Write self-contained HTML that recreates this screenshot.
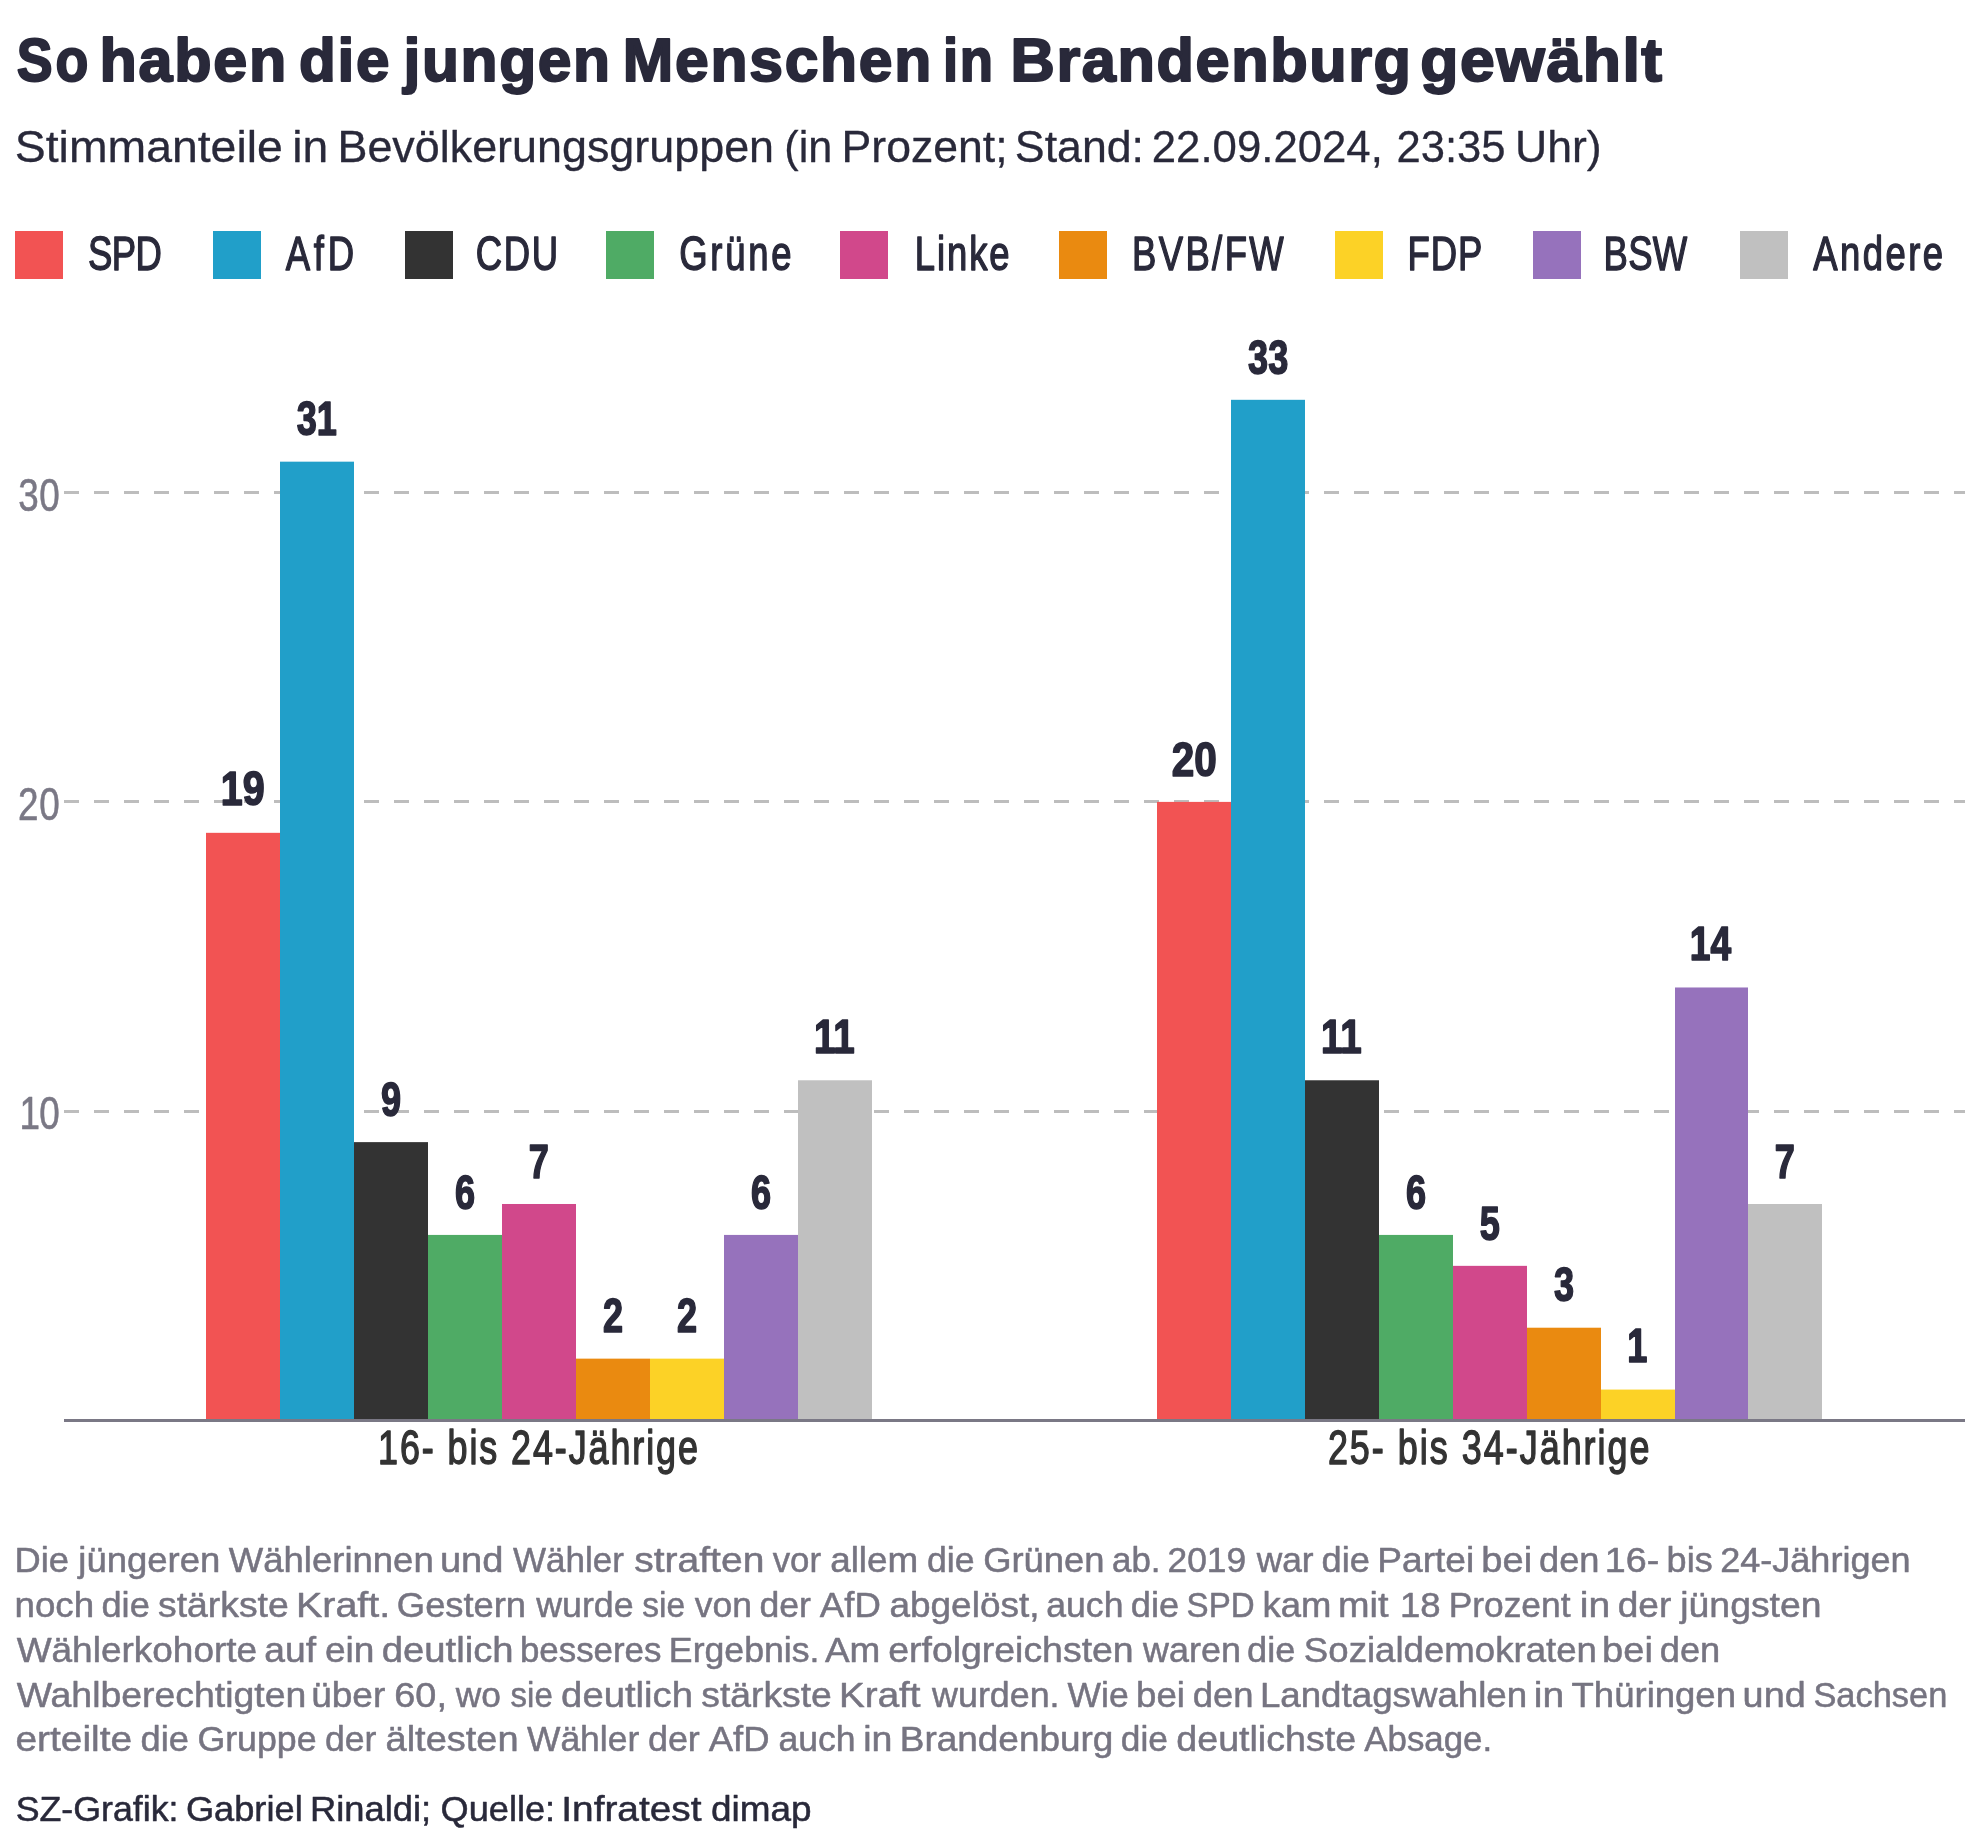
<!DOCTYPE html><html><head><meta charset="utf-8"><style>html,body{margin:0;padding:0;background:#fff;width:1980px;height:1848px;overflow:hidden}svg{display:block;will-change:transform}text{font-family:"Liberation Sans",sans-serif;white-space:pre}</style></head><body>
<svg width="1980" height="1848" viewBox="0 0 1980 1848">
<rect x="0" y="0" width="1980" height="1848" fill="#ffffff"/>
<rect x="15" y="231" width="48" height="48" fill="#f25353"/>
<rect x="213" y="231" width="48" height="48" fill="#219fc9"/>
<rect x="405" y="231" width="48" height="48" fill="#333333"/>
<rect x="606" y="231" width="48" height="48" fill="#4fab65"/>
<rect x="840" y="231" width="48" height="48" fill="#d1488b"/>
<rect x="1059" y="231" width="48" height="48" fill="#ea8a10"/>
<rect x="1335" y="231" width="48" height="48" fill="#fcd226"/>
<rect x="1533" y="231" width="48" height="48" fill="#9672bc"/>
<rect x="1740" y="231" width="48" height="48" fill="#c0c0c0"/>
<line x1="64" y1="492.5" x2="1965" y2="492.5" stroke="#bdbdbd" stroke-width="3" stroke-dasharray="15 15"/>
<line x1="64" y1="801.5" x2="1965" y2="801.5" stroke="#bdbdbd" stroke-width="3" stroke-dasharray="15 15"/>
<line x1="64" y1="1111.5" x2="1965" y2="1111.5" stroke="#bdbdbd" stroke-width="3" stroke-dasharray="15 15"/>
<rect x="206" y="832.83" width="74" height="587.67" fill="#f25353"/>
<rect x="280" y="461.67" width="74" height="958.83" fill="#219fc9"/>
<rect x="354" y="1142.13" width="74" height="278.37" fill="#333333"/>
<rect x="428" y="1234.92" width="74" height="185.58" fill="#4fab65"/>
<rect x="502" y="1203.99" width="74" height="216.51" fill="#d1488b"/>
<rect x="576" y="1358.64" width="74" height="61.86" fill="#ea8a10"/>
<rect x="650" y="1358.64" width="74" height="61.86" fill="#fcd226"/>
<rect x="724" y="1234.92" width="74" height="185.58" fill="#9672bc"/>
<rect x="798" y="1080.27" width="74" height="340.23" fill="#c0c0c0"/>
<rect x="1157" y="801.90" width="74" height="618.60" fill="#f25353"/>
<rect x="1231" y="399.81" width="74" height="1020.69" fill="#219fc9"/>
<rect x="1305" y="1080.27" width="74" height="340.23" fill="#333333"/>
<rect x="1379" y="1234.92" width="74" height="185.58" fill="#4fab65"/>
<rect x="1453" y="1265.85" width="74" height="154.65" fill="#d1488b"/>
<rect x="1527" y="1327.71" width="74" height="92.79" fill="#ea8a10"/>
<rect x="1601" y="1389.57" width="74" height="30.93" fill="#fcd226"/>
<rect x="1675" y="987.48" width="73" height="433.02" fill="#9672bc"/>
<rect x="1748" y="1203.99" width="74" height="216.51" fill="#c0c0c0"/>
<rect x="64" y="1419" width="1901" height="3" fill="#7a7885"/>
<text transform="matrix(0.8739,0,0,1,16.83,80.60)" letter-spacing="3.17" font-size="61.5" font-weight="bold" fill="#29293a" stroke="#29293a" stroke-width="2.00" stroke-linejoin="round">So</text>
<text transform="matrix(0.993,0,0,1,99.43,80.60)" letter-spacing="1.81" font-size="61.5" font-weight="bold" fill="#29293a" stroke="#29293a" stroke-width="2.00" stroke-linejoin="round">haben</text>
<text transform="matrix(0.9796,0,0,1,299.04,80.60)" letter-spacing="1.78" font-size="61.5" font-weight="bold" fill="#29293a" stroke="#29293a" stroke-width="2.00" stroke-linejoin="round">die</text>
<text transform="matrix(0.9847,0,0,1,403.48,80.60)" letter-spacing="1.66" font-size="61.5" font-weight="bold" fill="#29293a" stroke="#29293a" stroke-width="2.00" stroke-linejoin="round">jungen</text>
<text transform="matrix(0.9856,0,0,1,622.86,80.60)" letter-spacing="1.75" font-size="61.5" font-weight="bold" fill="#29293a" stroke="#29293a" stroke-width="2.00" stroke-linejoin="round">Menschen</text>
<text transform="matrix(0.8848,0,0,1,942.96,80.60)" letter-spacing="1.96" font-size="61.5" font-weight="bold" fill="#29293a" stroke="#29293a" stroke-width="2.00" stroke-linejoin="round">in</text>
<text transform="matrix(0.9965,0,0,1,1010.61,80.60)" letter-spacing="1.58" font-size="61.5" font-weight="bold" fill="#29293a" stroke="#29293a" stroke-width="2.00" stroke-linejoin="round">Brandenburg</text>
<text transform="matrix(1.0153,0,0,1,1420.17,80.60)" letter-spacing="1.57" font-size="61.5" font-weight="bold" fill="#29293a" stroke="#29293a" stroke-width="2.00" stroke-linejoin="round">gewählt</text>
<text x="14.79" y="162.40" font-size="45.0" fill="#29293a" stroke="#29293a" stroke-width="0.3" stroke-linejoin="round" textLength="268.02" lengthAdjust="spacingAndGlyphs">Stimmanteile</text>
<text x="292.37" y="162.40" font-size="45.0" fill="#29293a" stroke="#29293a" stroke-width="0.3" stroke-linejoin="round" textLength="35.96" lengthAdjust="spacingAndGlyphs">in</text>
<text x="337.46" y="162.40" font-size="45.0" fill="#29293a" stroke="#29293a" stroke-width="0.3" stroke-linejoin="round" textLength="436.61" lengthAdjust="spacingAndGlyphs">Bevölkerungsgruppen</text>
<text x="784.33" y="162.40" font-size="45.0" fill="#29293a" stroke="#29293a" stroke-width="0.3" stroke-linejoin="round" textLength="48.07" lengthAdjust="spacingAndGlyphs">(in</text>
<text x="841.58" y="162.40" font-size="45.0" fill="#29293a" stroke="#29293a" stroke-width="0.3" stroke-linejoin="round" textLength="165.94" lengthAdjust="spacingAndGlyphs">Prozent;</text>
<text x="1014.86" y="162.40" font-size="45.0" fill="#29293a" stroke="#29293a" stroke-width="0.3" stroke-linejoin="round" textLength="129.16" lengthAdjust="spacingAndGlyphs">Stand:</text>
<text x="1151.81" y="162.40" font-size="45.0" fill="#29293a" stroke="#29293a" stroke-width="0.3" stroke-linejoin="round" textLength="231.05" lengthAdjust="spacingAndGlyphs">22.09.2024,</text>
<text x="1396.51" y="162.40" font-size="45.0" fill="#29293a" stroke="#29293a" stroke-width="0.3" stroke-linejoin="round" textLength="109.13" lengthAdjust="spacingAndGlyphs">23:35</text>
<text x="1514.98" y="162.40" font-size="45.0" fill="#29293a" stroke="#29293a" stroke-width="0.3" stroke-linejoin="round" textLength="86.64" lengthAdjust="spacingAndGlyphs">Uhr)</text>
<text transform="matrix(0.76,0,0,1,87.88,269.60)" letter-spacing="-0.74" font-size="48.0" fill="#29293a" stroke="#29293a" stroke-width="1.40" stroke-linejoin="round">SPD</text>
<text transform="matrix(0.76,0,0,1,285.70,269.60)" letter-spacing="4.97" font-size="48.0" fill="#29293a" stroke="#29293a" stroke-width="1.40" stroke-linejoin="round">AfD</text>
<text transform="matrix(0.76,0,0,1,475.68,269.60)" letter-spacing="2.22" font-size="48.0" fill="#29293a" stroke="#29293a" stroke-width="1.40" stroke-linejoin="round">CDU</text>
<text transform="matrix(0.76,0,0,1,679.18,269.60)" letter-spacing="3.62" font-size="48.0" fill="#29293a" stroke="#29293a" stroke-width="1.40" stroke-linejoin="round">Grüne</text>
<text transform="matrix(0.76,0,0,1,914.82,269.60)" letter-spacing="2.49" font-size="48.0" fill="#29293a" stroke="#29293a" stroke-width="1.40" stroke-linejoin="round">Linke</text>
<text transform="matrix(0.76,0,0,1,1131.92,269.60)" letter-spacing="3.16" font-size="48.0" fill="#29293a" stroke="#29293a" stroke-width="1.40" stroke-linejoin="round">BVB/FW</text>
<text transform="matrix(0.76,0,0,1,1407.42,269.60)" letter-spacing="1.28" font-size="48.0" fill="#29293a" stroke="#29293a" stroke-width="1.40" stroke-linejoin="round">FDP</text>
<text transform="matrix(0.76,0,0,1,1603.42,269.60)" letter-spacing="0.50" font-size="48.0" fill="#29293a" stroke="#29293a" stroke-width="1.40" stroke-linejoin="round">BSW</text>
<text transform="matrix(0.76,0,0,1,1813.20,269.60)" letter-spacing="3.22" font-size="48.0" fill="#29293a" stroke="#29293a" stroke-width="1.40" stroke-linejoin="round">Andere</text>
<text transform="matrix(0.8,0,0,1,18.30,511.00)" letter-spacing="0.67" font-size="46" fill="#7a7885" stroke="#7a7885" stroke-width="0.60" stroke-linejoin="round">30</text>
<text transform="matrix(0.8,0,0,1,18.00,820.00)" letter-spacing="1.04" font-size="46" fill="#7a7885" stroke="#7a7885" stroke-width="0.60" stroke-linejoin="round">20</text>
<text transform="matrix(0.8,0,0,1,19.40,1128.80)" letter-spacing="-0.71" font-size="46" fill="#7a7885" stroke="#7a7885" stroke-width="0.60" stroke-linejoin="round">10</text>
<text x="220.84" y="805.33" font-size="47.5" font-weight="bold" fill="#29293a" stroke="#29293a" stroke-width="1.6" stroke-linejoin="round" textLength="43.84" lengthAdjust="spacingAndGlyphs">19</text>
<text x="296.70" y="435.37" font-size="47.5" font-weight="bold" fill="#29293a" stroke="#29293a" stroke-width="1.6" stroke-linejoin="round" textLength="40.15" lengthAdjust="spacingAndGlyphs">31</text>
<text x="381.12" y="1115.83" font-size="47.5" font-weight="bold" fill="#29293a" stroke="#29293a" stroke-width="1.6" stroke-linejoin="round" textLength="20.08" lengthAdjust="spacingAndGlyphs">9</text>
<text x="455.12" y="1208.62" font-size="47.5" font-weight="bold" fill="#29293a" stroke="#29293a" stroke-width="1.6" stroke-linejoin="round" textLength="20.08" lengthAdjust="spacingAndGlyphs">6</text>
<text x="528.74" y="1177.69" font-size="47.5" font-weight="bold" fill="#29293a" stroke="#29293a" stroke-width="1.6" stroke-linejoin="round" textLength="20.08" lengthAdjust="spacingAndGlyphs">7</text>
<text x="603.12" y="1332.34" font-size="47.5" font-weight="bold" fill="#29293a" stroke="#29293a" stroke-width="1.6" stroke-linejoin="round" textLength="20.08" lengthAdjust="spacingAndGlyphs">2</text>
<text x="677.12" y="1332.34" font-size="47.5" font-weight="bold" fill="#29293a" stroke="#29293a" stroke-width="1.6" stroke-linejoin="round" textLength="20.08" lengthAdjust="spacingAndGlyphs">2</text>
<text x="751.12" y="1208.62" font-size="47.5" font-weight="bold" fill="#29293a" stroke="#29293a" stroke-width="1.6" stroke-linejoin="round" textLength="20.08" lengthAdjust="spacingAndGlyphs">6</text>
<text x="813.98" y="1052.77" font-size="47.5" font-weight="bold" fill="#29293a" stroke="#29293a" stroke-width="1.6" stroke-linejoin="round" textLength="40.76" lengthAdjust="spacingAndGlyphs">11</text>
<text x="1171.65" y="775.60" font-size="47.5" font-weight="bold" fill="#29293a" stroke="#29293a" stroke-width="1.6" stroke-linejoin="round" textLength="45.06" lengthAdjust="spacingAndGlyphs">20</text>
<text x="1248.08" y="373.51" font-size="47.5" font-weight="bold" fill="#29293a" stroke="#29293a" stroke-width="1.6" stroke-linejoin="round" textLength="40.15" lengthAdjust="spacingAndGlyphs">33</text>
<text x="1320.98" y="1052.77" font-size="47.5" font-weight="bold" fill="#29293a" stroke="#29293a" stroke-width="1.6" stroke-linejoin="round" textLength="40.76" lengthAdjust="spacingAndGlyphs">11</text>
<text x="1406.12" y="1208.62" font-size="47.5" font-weight="bold" fill="#29293a" stroke="#29293a" stroke-width="1.6" stroke-linejoin="round" textLength="20.08" lengthAdjust="spacingAndGlyphs">6</text>
<text x="1479.74" y="1239.55" font-size="47.5" font-weight="bold" fill="#29293a" stroke="#29293a" stroke-width="1.6" stroke-linejoin="round" textLength="20.08" lengthAdjust="spacingAndGlyphs">5</text>
<text x="1554.12" y="1301.41" font-size="47.5" font-weight="bold" fill="#29293a" stroke="#29293a" stroke-width="1.6" stroke-linejoin="round" textLength="20.08" lengthAdjust="spacingAndGlyphs">3</text>
<text x="1627.36" y="1362.07" font-size="47.5" font-weight="bold" fill="#29293a" stroke="#29293a" stroke-width="1.6" stroke-linejoin="round" textLength="20.08" lengthAdjust="spacingAndGlyphs">1</text>
<text x="1689.84" y="959.98" font-size="47.5" font-weight="bold" fill="#29293a" stroke="#29293a" stroke-width="1.6" stroke-linejoin="round" textLength="41.31" lengthAdjust="spacingAndGlyphs">14</text>
<text x="1774.74" y="1177.69" font-size="47.5" font-weight="bold" fill="#29293a" stroke="#29293a" stroke-width="1.6" stroke-linejoin="round" textLength="20.08" lengthAdjust="spacingAndGlyphs">7</text>
<text transform="matrix(0.76,0,0,1,378.02,1463.60)" letter-spacing="2.50" font-size="47.3" fill="#333333" stroke="#333333" stroke-width="1.40" stroke-linejoin="round">16- bis 24-Jährige</text>
<text transform="matrix(0.76,0,0,1,1327.88,1463.60)" letter-spacing="2.63" font-size="47.3" fill="#333333" stroke="#333333" stroke-width="1.40" stroke-linejoin="round">25- bis 34-Jährige</text>
<text x="14.53" y="1572.00" font-size="34.2" fill="#767481" stroke="#767481" stroke-width="0.5" stroke-linejoin="round" textLength="54.50" lengthAdjust="spacingAndGlyphs">Die</text>
<text x="78.32" y="1572.00" font-size="34.2" fill="#767481" stroke="#767481" stroke-width="0.5" stroke-linejoin="round" textLength="141.98" lengthAdjust="spacingAndGlyphs">jüngeren</text>
<text x="228.75" y="1572.00" font-size="34.2" fill="#767481" stroke="#767481" stroke-width="0.5" stroke-linejoin="round" textLength="204.95" lengthAdjust="spacingAndGlyphs">Wählerinnen</text>
<text x="439.92" y="1572.00" font-size="34.2" fill="#767481" stroke="#767481" stroke-width="0.5" stroke-linejoin="round" textLength="63.57" lengthAdjust="spacingAndGlyphs">und</text>
<text x="513.05" y="1572.00" font-size="34.2" fill="#767481" stroke="#767481" stroke-width="0.5" stroke-linejoin="round" textLength="110.99" lengthAdjust="spacingAndGlyphs">Wähler</text>
<text x="634.25" y="1572.00" font-size="34.2" fill="#767481" stroke="#767481" stroke-width="0.5" stroke-linejoin="round" textLength="130.10" lengthAdjust="spacingAndGlyphs">straften</text>
<text x="772.65" y="1572.00" font-size="34.2" fill="#767481" stroke="#767481" stroke-width="0.5" stroke-linejoin="round" textLength="48.39" lengthAdjust="spacingAndGlyphs">vor</text>
<text x="830.17" y="1572.00" font-size="34.2" fill="#767481" stroke="#767481" stroke-width="0.5" stroke-linejoin="round" textLength="88.07" lengthAdjust="spacingAndGlyphs">allem</text>
<text x="926.91" y="1572.00" font-size="34.2" fill="#767481" stroke="#767481" stroke-width="0.5" stroke-linejoin="round" textLength="47.60" lengthAdjust="spacingAndGlyphs">die</text>
<text x="983.19" y="1572.00" font-size="34.2" fill="#767481" stroke="#767481" stroke-width="0.5" stroke-linejoin="round" textLength="121.41" lengthAdjust="spacingAndGlyphs">Grünen</text>
<text x="1112.03" y="1572.00" font-size="34.2" fill="#767481" stroke="#767481" stroke-width="0.5" stroke-linejoin="round" textLength="48.47" lengthAdjust="spacingAndGlyphs">ab.</text>
<text x="1167.52" y="1572.00" font-size="34.2" fill="#767481" stroke="#767481" stroke-width="0.5" stroke-linejoin="round" textLength="78.68" lengthAdjust="spacingAndGlyphs">2019</text>
<text x="1256.78" y="1572.00" font-size="34.2" fill="#767481" stroke="#767481" stroke-width="0.5" stroke-linejoin="round" textLength="56.86" lengthAdjust="spacingAndGlyphs">war</text>
<text x="1321.59" y="1572.00" font-size="34.2" fill="#767481" stroke="#767481" stroke-width="0.5" stroke-linejoin="round" textLength="48.33" lengthAdjust="spacingAndGlyphs">die</text>
<text x="1377.28" y="1572.00" font-size="34.2" fill="#767481" stroke="#767481" stroke-width="0.5" stroke-linejoin="round" textLength="97.01" lengthAdjust="spacingAndGlyphs">Partei</text>
<text x="1481.32" y="1572.00" font-size="34.2" fill="#767481" stroke="#767481" stroke-width="0.5" stroke-linejoin="round" textLength="50.80" lengthAdjust="spacingAndGlyphs">bei</text>
<text x="1538.99" y="1572.00" font-size="34.2" fill="#767481" stroke="#767481" stroke-width="0.5" stroke-linejoin="round" textLength="60.50" lengthAdjust="spacingAndGlyphs">den</text>
<text x="1604.85" y="1572.00" font-size="34.2" fill="#767481" stroke="#767481" stroke-width="0.5" stroke-linejoin="round" textLength="54.43" lengthAdjust="spacingAndGlyphs">16-</text>
<text x="1666.64" y="1572.00" font-size="34.2" fill="#767481" stroke="#767481" stroke-width="0.5" stroke-linejoin="round" textLength="46.06" lengthAdjust="spacingAndGlyphs">bis</text>
<text x="1720.20" y="1572.00" font-size="34.2" fill="#767481" stroke="#767481" stroke-width="0.5" stroke-linejoin="round" textLength="190.38" lengthAdjust="spacingAndGlyphs">24-Jährigen</text>
<text x="14.50" y="1616.70" font-size="34.2" fill="#767481" stroke="#767481" stroke-width="0.5" stroke-linejoin="round" textLength="79.61" lengthAdjust="spacingAndGlyphs">noch</text>
<text x="101.49" y="1616.70" font-size="34.2" fill="#767481" stroke="#767481" stroke-width="0.5" stroke-linejoin="round" textLength="48.33" lengthAdjust="spacingAndGlyphs">die</text>
<text x="158.05" y="1616.70" font-size="34.2" fill="#767481" stroke="#767481" stroke-width="0.5" stroke-linejoin="round" textLength="130.71" lengthAdjust="spacingAndGlyphs">stärkste</text>
<text x="295.94" y="1616.70" font-size="34.2" fill="#767481" stroke="#767481" stroke-width="0.5" stroke-linejoin="round" textLength="94.29" lengthAdjust="spacingAndGlyphs">Kraft.</text>
<text x="396.89" y="1616.70" font-size="34.2" fill="#767481" stroke="#767481" stroke-width="0.5" stroke-linejoin="round" textLength="129.20" lengthAdjust="spacingAndGlyphs">Gestern</text>
<text x="536.30" y="1616.70" font-size="34.2" fill="#767481" stroke="#767481" stroke-width="0.5" stroke-linejoin="round" textLength="97.31" lengthAdjust="spacingAndGlyphs">wurde</text>
<text x="642.35" y="1616.70" font-size="34.2" fill="#767481" stroke="#767481" stroke-width="0.5" stroke-linejoin="round" textLength="42.89" lengthAdjust="spacingAndGlyphs">sie</text>
<text x="694.85" y="1616.70" font-size="34.2" fill="#767481" stroke="#767481" stroke-width="0.5" stroke-linejoin="round" textLength="57.19" lengthAdjust="spacingAndGlyphs">von</text>
<text x="759.51" y="1616.70" font-size="34.2" fill="#767481" stroke="#767481" stroke-width="0.5" stroke-linejoin="round" textLength="51.44" lengthAdjust="spacingAndGlyphs">der</text>
<text x="819.85" y="1616.70" font-size="34.2" fill="#767481" stroke="#767481" stroke-width="0.5" stroke-linejoin="round" textLength="60.94" lengthAdjust="spacingAndGlyphs">AfD</text>
<text x="889.47" y="1616.70" font-size="34.2" fill="#767481" stroke="#767481" stroke-width="0.5" stroke-linejoin="round" textLength="149.98" lengthAdjust="spacingAndGlyphs">abgelöst,</text>
<text x="1046.31" y="1616.70" font-size="34.2" fill="#767481" stroke="#767481" stroke-width="0.5" stroke-linejoin="round" textLength="77.14" lengthAdjust="spacingAndGlyphs">auch</text>
<text x="1130.89" y="1616.70" font-size="34.2" fill="#767481" stroke="#767481" stroke-width="0.5" stroke-linejoin="round" textLength="48.33" lengthAdjust="spacingAndGlyphs">die</text>
<text x="1186.58" y="1616.70" font-size="34.2" fill="#767481" stroke="#767481" stroke-width="0.5" stroke-linejoin="round" textLength="68.03" lengthAdjust="spacingAndGlyphs">SPD</text>
<text x="1262.42" y="1616.70" font-size="34.2" fill="#767481" stroke="#767481" stroke-width="0.5" stroke-linejoin="round" textLength="68.91" lengthAdjust="spacingAndGlyphs">kam</text>
<text x="1338.04" y="1616.70" font-size="34.2" fill="#767481" stroke="#767481" stroke-width="0.5" stroke-linejoin="round" textLength="50.46" lengthAdjust="spacingAndGlyphs">mit</text>
<text x="1400.01" y="1616.70" font-size="34.2" fill="#767481" stroke="#767481" stroke-width="0.5" stroke-linejoin="round" textLength="40.62" lengthAdjust="spacingAndGlyphs">18</text>
<text x="1448.68" y="1616.70" font-size="34.2" fill="#767481" stroke="#767481" stroke-width="0.5" stroke-linejoin="round" textLength="121.85" lengthAdjust="spacingAndGlyphs">Prozent</text>
<text x="1579.77" y="1616.70" font-size="34.2" fill="#767481" stroke="#767481" stroke-width="0.5" stroke-linejoin="round" textLength="30.38" lengthAdjust="spacingAndGlyphs">in</text>
<text x="1617.77" y="1616.70" font-size="34.2" fill="#767481" stroke="#767481" stroke-width="0.5" stroke-linejoin="round" textLength="53.50" lengthAdjust="spacingAndGlyphs">der</text>
<text x="1680.34" y="1616.70" font-size="34.2" fill="#767481" stroke="#767481" stroke-width="0.5" stroke-linejoin="round" textLength="141.11" lengthAdjust="spacingAndGlyphs">jüngsten</text>
<text x="16.65" y="1661.60" font-size="34.2" fill="#767481" stroke="#767481" stroke-width="0.5" stroke-linejoin="round" textLength="240.50" lengthAdjust="spacingAndGlyphs">Wählerkohorte</text>
<text x="264.36" y="1661.60" font-size="34.2" fill="#767481" stroke="#767481" stroke-width="0.5" stroke-linejoin="round" textLength="51.74" lengthAdjust="spacingAndGlyphs">auf</text>
<text x="324.97" y="1661.60" font-size="34.2" fill="#767481" stroke="#767481" stroke-width="0.5" stroke-linejoin="round" textLength="49.47" lengthAdjust="spacingAndGlyphs">ein</text>
<text x="381.73" y="1661.60" font-size="34.2" fill="#767481" stroke="#767481" stroke-width="0.5" stroke-linejoin="round" textLength="131.87" lengthAdjust="spacingAndGlyphs">deutlich</text>
<text x="519.91" y="1661.60" font-size="34.2" fill="#767481" stroke="#767481" stroke-width="0.5" stroke-linejoin="round" textLength="141.56" lengthAdjust="spacingAndGlyphs">besseres</text>
<text x="668.86" y="1661.60" font-size="34.2" fill="#767481" stroke="#767481" stroke-width="0.5" stroke-linejoin="round" textLength="150.59" lengthAdjust="spacingAndGlyphs">Ergebnis.</text>
<text x="824.95" y="1661.60" font-size="34.2" fill="#767481" stroke="#767481" stroke-width="0.5" stroke-linejoin="round" textLength="55.40" lengthAdjust="spacingAndGlyphs">Am</text>
<text x="888.26" y="1661.60" font-size="34.2" fill="#767481" stroke="#767481" stroke-width="0.5" stroke-linejoin="round" textLength="245.40" lengthAdjust="spacingAndGlyphs">erfolgreichsten</text>
<text x="1143.10" y="1661.60" font-size="34.2" fill="#767481" stroke="#767481" stroke-width="0.5" stroke-linejoin="round" textLength="97.76" lengthAdjust="spacingAndGlyphs">waren</text>
<text x="1247.09" y="1661.60" font-size="34.2" fill="#767481" stroke="#767481" stroke-width="0.5" stroke-linejoin="round" textLength="48.33" lengthAdjust="spacingAndGlyphs">die</text>
<text x="1303.88" y="1661.60" font-size="34.2" fill="#767481" stroke="#767481" stroke-width="0.5" stroke-linejoin="round" textLength="293.03" lengthAdjust="spacingAndGlyphs">Sozialdemokraten</text>
<text x="1602.12" y="1661.60" font-size="34.2" fill="#767481" stroke="#767481" stroke-width="0.5" stroke-linejoin="round" textLength="50.80" lengthAdjust="spacingAndGlyphs">bei</text>
<text x="1659.79" y="1661.60" font-size="34.2" fill="#767481" stroke="#767481" stroke-width="0.5" stroke-linejoin="round" textLength="60.50" lengthAdjust="spacingAndGlyphs">den</text>
<text x="16.65" y="1707.00" font-size="34.2" fill="#767481" stroke="#767481" stroke-width="0.5" stroke-linejoin="round" textLength="289.60" lengthAdjust="spacingAndGlyphs">Wahlberechtigten</text>
<text x="311.18" y="1707.00" font-size="34.2" fill="#767481" stroke="#767481" stroke-width="0.5" stroke-linejoin="round" textLength="74.08" lengthAdjust="spacingAndGlyphs">über</text>
<text x="394.34" y="1707.00" font-size="34.2" fill="#767481" stroke="#767481" stroke-width="0.5" stroke-linejoin="round" textLength="52.57" lengthAdjust="spacingAndGlyphs">60,</text>
<text x="455.78" y="1707.00" font-size="34.2" fill="#767481" stroke="#767481" stroke-width="0.5" stroke-linejoin="round" textLength="45.21" lengthAdjust="spacingAndGlyphs">wo</text>
<text x="510.55" y="1707.00" font-size="34.2" fill="#767481" stroke="#767481" stroke-width="0.5" stroke-linejoin="round" textLength="42.18" lengthAdjust="spacingAndGlyphs">sie</text>
<text x="561.13" y="1707.00" font-size="34.2" fill="#767481" stroke="#767481" stroke-width="0.5" stroke-linejoin="round" textLength="131.77" lengthAdjust="spacingAndGlyphs">deutlich</text>
<text x="701.25" y="1707.00" font-size="34.2" fill="#767481" stroke="#767481" stroke-width="0.5" stroke-linejoin="round" textLength="130.61" lengthAdjust="spacingAndGlyphs">stärkste</text>
<text x="839.09" y="1707.00" font-size="34.2" fill="#767481" stroke="#767481" stroke-width="0.5" stroke-linejoin="round" textLength="81.49" lengthAdjust="spacingAndGlyphs">Kraft</text>
<text x="932.10" y="1707.00" font-size="34.2" fill="#767481" stroke="#767481" stroke-width="0.5" stroke-linejoin="round" textLength="127.47" lengthAdjust="spacingAndGlyphs">wurden.</text>
<text x="1067.55" y="1707.00" font-size="34.2" fill="#767481" stroke="#767481" stroke-width="0.5" stroke-linejoin="round" textLength="61.15" lengthAdjust="spacingAndGlyphs">Wie</text>
<text x="1136.11" y="1707.00" font-size="34.2" fill="#767481" stroke="#767481" stroke-width="0.5" stroke-linejoin="round" textLength="48.85" lengthAdjust="spacingAndGlyphs">bei</text>
<text x="1192.78" y="1707.00" font-size="34.2" fill="#767481" stroke="#767481" stroke-width="0.5" stroke-linejoin="round" textLength="60.81" lengthAdjust="spacingAndGlyphs">den</text>
<text x="1259.90" y="1707.00" font-size="34.2" fill="#767481" stroke="#767481" stroke-width="0.5" stroke-linejoin="round" textLength="267.31" lengthAdjust="spacingAndGlyphs">Landtagswahlen</text>
<text x="1533.77" y="1707.00" font-size="34.2" fill="#767481" stroke="#767481" stroke-width="0.5" stroke-linejoin="round" textLength="30.38" lengthAdjust="spacingAndGlyphs">in</text>
<text x="1571.55" y="1707.00" font-size="34.2" fill="#767481" stroke="#767481" stroke-width="0.5" stroke-linejoin="round" textLength="164.45" lengthAdjust="spacingAndGlyphs">Thüringen</text>
<text x="1742.64" y="1707.00" font-size="34.2" fill="#767481" stroke="#767481" stroke-width="0.5" stroke-linejoin="round" textLength="63.04" lengthAdjust="spacingAndGlyphs">und</text>
<text x="1813.44" y="1707.00" font-size="34.2" fill="#767481" stroke="#767481" stroke-width="0.5" stroke-linejoin="round" textLength="133.83" lengthAdjust="spacingAndGlyphs">Sachsen</text>
<text x="15.51" y="1751.30" font-size="34.2" fill="#767481" stroke="#767481" stroke-width="0.5" stroke-linejoin="round" textLength="116.69" lengthAdjust="spacingAndGlyphs">erteilte</text>
<text x="140.59" y="1751.30" font-size="34.2" fill="#767481" stroke="#767481" stroke-width="0.5" stroke-linejoin="round" textLength="48.33" lengthAdjust="spacingAndGlyphs">die</text>
<text x="197.41" y="1751.30" font-size="34.2" fill="#767481" stroke="#767481" stroke-width="0.5" stroke-linejoin="round" textLength="119.10" lengthAdjust="spacingAndGlyphs">Gruppe</text>
<text x="325.01" y="1751.30" font-size="34.2" fill="#767481" stroke="#767481" stroke-width="0.5" stroke-linejoin="round" textLength="51.44" lengthAdjust="spacingAndGlyphs">der</text>
<text x="385.54" y="1751.30" font-size="34.2" fill="#767481" stroke="#767481" stroke-width="0.5" stroke-linejoin="round" textLength="133.05" lengthAdjust="spacingAndGlyphs">ältesten</text>
<text x="526.95" y="1751.30" font-size="34.2" fill="#767481" stroke="#767481" stroke-width="0.5" stroke-linejoin="round" textLength="112.30" lengthAdjust="spacingAndGlyphs">Wähler</text>
<text x="647.90" y="1751.30" font-size="34.2" fill="#767481" stroke="#767481" stroke-width="0.5" stroke-linejoin="round" textLength="51.96" lengthAdjust="spacingAndGlyphs">der</text>
<text x="708.75" y="1751.30" font-size="34.2" fill="#767481" stroke="#767481" stroke-width="0.5" stroke-linejoin="round" textLength="60.84" lengthAdjust="spacingAndGlyphs">AfD</text>
<text x="778.41" y="1751.30" font-size="34.2" fill="#767481" stroke="#767481" stroke-width="0.5" stroke-linejoin="round" textLength="77.14" lengthAdjust="spacingAndGlyphs">auch</text>
<text x="863.15" y="1751.30" font-size="34.2" fill="#767481" stroke="#767481" stroke-width="0.5" stroke-linejoin="round" textLength="29.21" lengthAdjust="spacingAndGlyphs">in</text>
<text x="899.79" y="1751.30" font-size="34.2" fill="#767481" stroke="#767481" stroke-width="0.5" stroke-linejoin="round" textLength="213.64" lengthAdjust="spacingAndGlyphs">Brandenburg</text>
<text x="1120.82" y="1751.30" font-size="34.2" fill="#767481" stroke="#767481" stroke-width="0.5" stroke-linejoin="round" textLength="47.08" lengthAdjust="spacingAndGlyphs">die</text>
<text x="1176.35" y="1751.30" font-size="34.2" fill="#767481" stroke="#767481" stroke-width="0.5" stroke-linejoin="round" textLength="179.71" lengthAdjust="spacingAndGlyphs">deutlichste</text>
<text x="1364.25" y="1751.30" font-size="34.2" fill="#767481" stroke="#767481" stroke-width="0.5" stroke-linejoin="round" textLength="127.95" lengthAdjust="spacingAndGlyphs">Absage.</text>
<text x="15.71" y="1821.10" font-size="34.5" fill="#29293a" stroke="#29293a" stroke-width="0.5" stroke-linejoin="round" textLength="162.81" lengthAdjust="spacingAndGlyphs">SZ-Grafik:</text>
<text x="185.90" y="1821.10" font-size="34.5" fill="#29293a" stroke="#29293a" stroke-width="0.5" stroke-linejoin="round" textLength="116.80" lengthAdjust="spacingAndGlyphs">Gabriel</text>
<text x="309.94" y="1821.10" font-size="34.5" fill="#29293a" stroke="#29293a" stroke-width="0.5" stroke-linejoin="round" textLength="121.13" lengthAdjust="spacingAndGlyphs">Rinaldi;</text>
<text x="440.60" y="1821.10" font-size="34.5" fill="#29293a" stroke="#29293a" stroke-width="0.5" stroke-linejoin="round" textLength="114.56" lengthAdjust="spacingAndGlyphs">Quelle:</text>
<text x="561.27" y="1821.10" font-size="34.5" fill="#29293a" stroke="#29293a" stroke-width="0.5" stroke-linejoin="round" textLength="140.31" lengthAdjust="spacingAndGlyphs">Infratest</text>
<text x="710.98" y="1821.10" font-size="34.5" fill="#29293a" stroke="#29293a" stroke-width="0.5" stroke-linejoin="round" textLength="100.54" lengthAdjust="spacingAndGlyphs">dimap</text>
</svg></body></html>
